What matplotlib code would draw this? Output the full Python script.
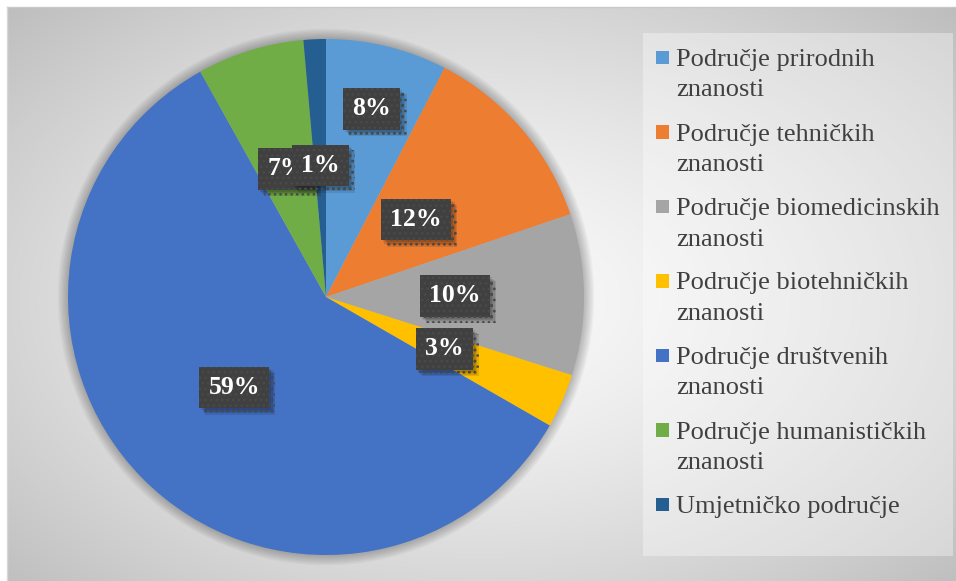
import numpy as np
import matplotlib.pyplot as plt
from matplotlib import patheffects
from matplotlib.patches import Rectangle, Circle

# data
categories = ['Područje prirodnih\nznanosti', 'Područje tehničkih\nznanosti',
              'Područje biomedicinskih\nznanosti', 'Područje biotehničkih\nznanosti',
              'Područje društvenih\nznanosti', 'Područje humanističkih\nznanosti',
              'Umjetničko područje']
shares = [7.6, 12.2, 10.1, 3.4, 58.6, 6.7, 1.4]
colors = ['#5B9BD5', '#ED7D31', '#A5A5A5', '#FFC000', '#4472C4', '#70AD47', '#255E91']
label_dist = [0.75, 0.46, 0.5, 0.5, 0.5, 0.52, 0.51]

W, H = 956, 581
fig = plt.figure(figsize=(W / 100, H / 100), dpi=100)
fig.patch.set_facecolor('white')

# background: radial grey gradient
bg = fig.add_axes([0, 0, 1, 1])
bg.set_xlim(0, W)
bg.set_ylim(H, 0)
bg.axis('off')
yy, xx = np.mgrid[7:H, 7:W]
d = np.sqrt(((xx - 478) / 478.0) ** 2 + ((yy - 300) / 300.0) ** 2) / np.sqrt(2)
g = (250 - 62 * np.clip(d, 0, 1) ** 1.4) / 255.0
bg.imshow(np.dstack([g, g, g]), extent=(7, W, H, 7), aspect='auto', interpolation='bilinear')
bg.plot([7, W], [7, 7], color='#c8c8c8', lw=1)
bg.plot([7, 7], [7, H], color='#d8d8d8', lw=1)

# legend panel
bg.add_patch(Rectangle((643, 33), 310, 523, facecolor='white', alpha=0.35, lw=0))

# pie
cx, cy, R = 326, 297, 258
ax = fig.add_axes([(cx - R) / W, (H - cy - R) / H, 2 * R / W, 2 * R / H])
ax.set_xlim(-1, 1)
ax.set_ylim(-1, 1)
ax.axis('off')
for k in range(9):
    ax.add_patch(Circle((0, 0), 1.0 + k * 0.005, facecolor='black', alpha=0.03, lw=0,
                        zorder=0, clip_on=False))
wedges, _ = ax.pie(shares, colors=colors, startangle=90, counterclock=False, radius=1,
                   wedgeprops=dict(linewidth=0, zorder=2))
ax.set_xlim(-1, 1)
ax.set_ylim(-1, 1)

# soft shadow for the label boxes
soft = [patheffects.SimplePatchShadow(offset=(o, -o), shadow_rgbFace='black', alpha=0.1)
        for o in (1.5, 2.5, 3.5, 4.5)]

for w, v, r in zip(wedges, shares, label_dist):
    ang = np.deg2rad((w.theta1 + w.theta2) / 2)
    t = ax.text(r * np.cos(ang), r * np.sin(ang), f'{round(v)}%', ha='center', va='center',
                color='white', fontsize=18.5, fontweight='bold', family='Liberation Serif', zorder=5,
                bbox=dict(boxstyle='square,pad=0.36', facecolor='#404040', edgecolor='#4a4a4a',
                          linewidth=0, hatch='...'))
    t.get_bbox_patch().set_path_effects(soft + [patheffects.Normal()])

# legend drawn by hand so the marker sits on the first line
for i, (lab, c) in enumerate(zip(categories, colors)):
    yc = 57.5 + i * 74.5
    bg.add_patch(Rectangle((656, yc - 6.7), 13.4, 13.4, facecolor=c, lw=0))
    for j, line in enumerate(lab.split('\n')):
        bg.text(676, yc + 8.5 + j * 30.5, line, ha='left', va='baseline', fontsize=19,
                family='Liberation Serif', color='#404040')

fig.savefig('out.png', dpi=100)
